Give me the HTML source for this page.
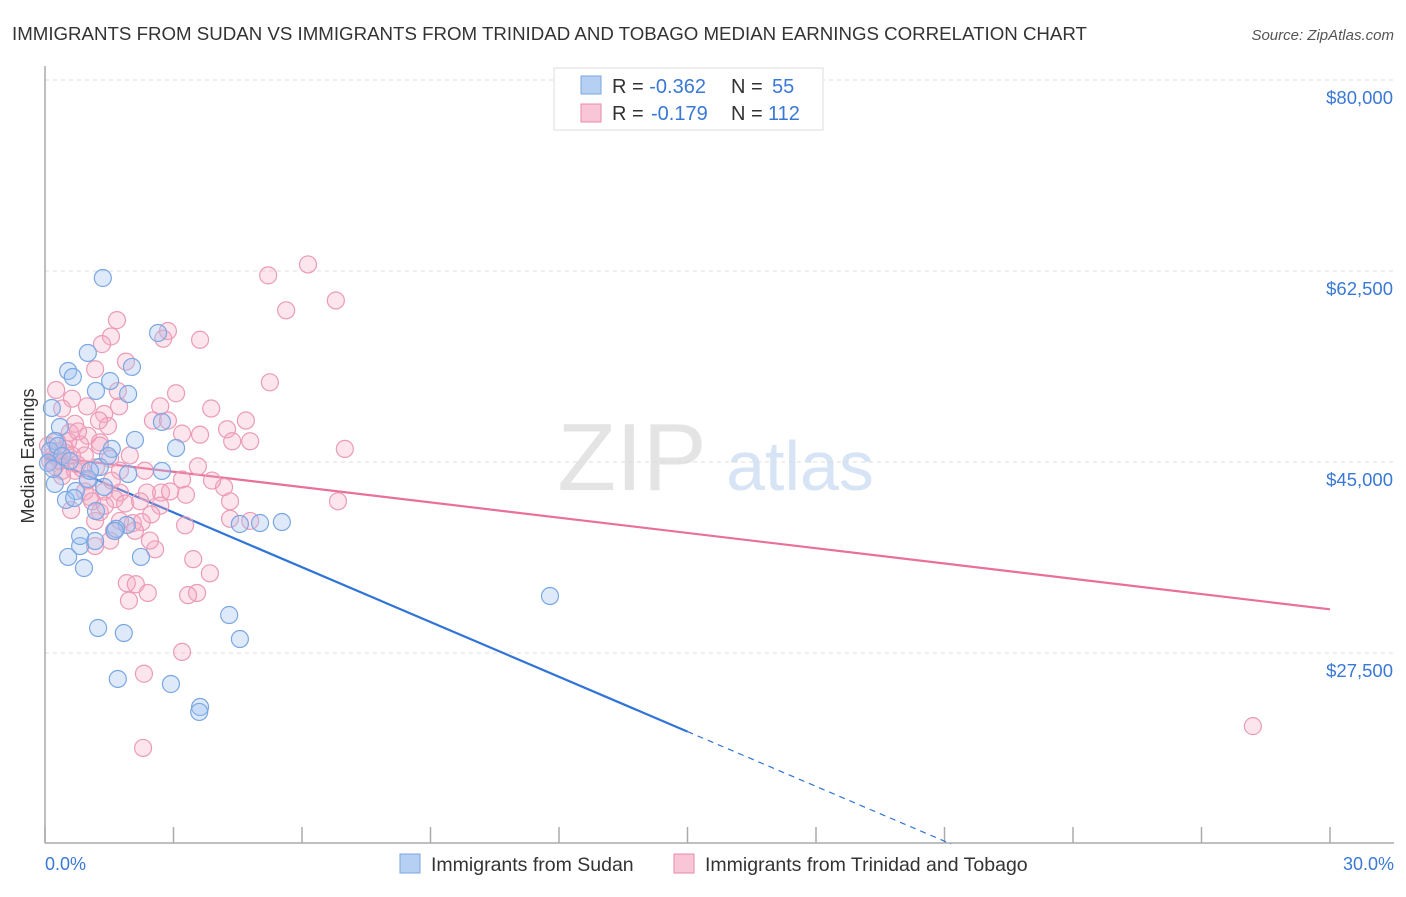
<!DOCTYPE html>
<html><head><meta charset="utf-8"><style>
body{margin:0;background:#fff;font-family:"Liberation Sans",sans-serif;}
svg text{font-family:"Liberation Sans",sans-serif;}
</style></head><body>
<svg id="chart" width="1406" height="892" viewBox="0 0 1406 892">
<text x="12" y="40" font-size="18.7" fill="#333">IMMIGRANTS FROM SUDAN VS IMMIGRANTS FROM TRINIDAD AND TOBAGO MEDIAN EARNINGS CORRELATION CHART</text>
<text x="1394" y="40" font-size="15" fill="#555" font-style="italic" text-anchor="end">Source: ZipAtlas.com</text>
<g>
<text x="632" y="490" font-size="96" fill="#e4e4e4" text-anchor="middle" font-family="Liberation Serif">ZIP</text>
<text x="800" y="490" font-size="70" fill="#d6e4f5" text-anchor="middle">atlas</text>
</g>
<g id="grid"></g><g id="axes"></g><g id="lines"></g><g id="points"></g>
<text transform="translate(34,456) rotate(-90)" font-size="18" fill="#333" text-anchor="middle">Median Earnings</text>
<text x="45" y="870" font-size="18" fill="#3a78d6">0.0%</text>
<text x="1394" y="870" font-size="18" fill="#3a78d6" text-anchor="end">30.0%</text>
<g>
<rect x="554" y="68" width="269" height="62" fill="#fff" stroke="#ddd"/>
<rect x="581" y="76" width="20" height="18" fill="#b6d0f3" stroke="#7aa7e0"/>
<rect x="581" y="104" width="20" height="18" fill="#f8c6d6" stroke="#e88aab"/>
<text x="612" y="93" font-size="20" fill="#333">R = <tspan fill="#3a78d6">-0.362</tspan><tspan x="731">N = </tspan><tspan fill="#3a78d6" x="772">55</tspan></text>
<text x="612" y="120" font-size="20" fill="#333">R = <tspan fill="#3a78d6" x="651">-0.179</tspan><tspan x="731">N = </tspan><tspan fill="#3a78d6" x="768">112</tspan></text>
</g>
<g>
<rect x="400" y="854" width="20" height="19" fill="#b6d0f3" stroke="#7aa7e0"/>
<text x="431" y="871" font-size="19.5" fill="#333">Immigrants from Sudan</text>
<rect x="674" y="854" width="20" height="19" fill="#f8c6d6" stroke="#e88aab"/>
<text x="705" y="871" font-size="19.5" fill="#333">Immigrants from Trinidad and Tobago</text>
</g>
</svg>
<script>
const yTicks=[80000,62500,45000,27500];
const yTickLabels=["$80,000","$62,500","$45,000","$27,500"];
const xTicks=[0,3,6,9,12,15,18,21,24,27,30];
const sudanX=[1.35,1.0,0.54,0.65,1.52,1.19,1.94,2.03,2.64,0.16,0.35,0.23,1.56,2.1,3.06,2.73,2.73,1.94,1.28,1.0,0.23,0.72,1.38,0.49,0.68,1.19,1.91,1.66,4.55,5.02,5.53,0.82,1.17,0.54,2.24,0.91,4.3,1.24,1.84,4.55,11.79,1.7,2.94,3.62,3.6,0.12,0.3,0.4,0.07,0.19,1.47,1.05,0.58,1.63,0.82];
const sudanY=[61860,54990,53340,52790,52420,51510,51230,53710,56820,49950,48210,46930,46200,47020,46280,48670,44180,43900,44540,43440,42990,42340,42710,41520,41700,40510,39230,38870,39320,39410,39500,37300,37760,36300,36300,35290,30980,29790,29330,28780,32720,25120,24660,22550,22100,46010,46470,45550,44910,44360,45550,44180,45090,38680,38220];
const trinX=[5.21,6.14,6.79,5.63,1.68,2.87,3.62,1.54,2.76,1.33,1.89,1.17,5.25,0.26,3.06,1.70,0.63,0.40,1.73,2.69,3.88,1.38,2.52,2.87,4.69,0.70,1.47,4.25,0.58,1.00,3.20,3.62,4.79,4.37,7.00,0.28,0.82,1.28,0.47,0.93,1.52,0.12,0.75,1.19,3.57,1.75,3.20,0.40,1.00,4.18,1.38,1.75,2.38,2.71,3.29,1.05,1.63,6.84,1.87,2.69,0.61,1.28,2.48,4.32,2.05,3.27,1.61,2.26,1.17,1.52,2.57,3.46,3.85,1.91,2.12,2.40,3.55,3.34,1.96,3.20,2.31,2.29,28.2,0.19,0.30,0.49,0.07,0.23,0.40,0.70,0.93,1.28,1.98,2.33,1.56,1.17,1.75,2.92,2.22,0.54,1.10,1.40,2.10,2.45,0.77,1.26,0.98,0.35,0.63,0.86,4.79,3.90,4.32];
const trinY=[62100,63100,59800,58900,58000,57000,56200,56500,56300,55800,54200,53500,52300,51600,51300,51500,50800,49900,50100,50100,49900,49400,48800,48800,48800,48500,48300,48000,47700,47400,47600,47500,46900,46900,46200,46900,46600,46800,46200,45600,45300,45100,44800,44500,44600,44200,43400,43700,43300,42700,42300,42200,42200,42200,42000,41800,41600,41400,41200,41000,40600,40400,40200,39800,39400,39200,38700,39500,37300,37800,37000,36100,34800,33900,33800,33000,33000,32800,32300,27600,25600,18800,20800,45600,46000,45800,46500,44600,44200,44200,42300,46500,45600,44200,43300,39600,39600,42300,41400,46900,41400,41000,38700,37800,47800,48800,50100,45100,45600,44400,39600,43300,41400];
const sudanLine=[45400,20300];
const trinLine=[45500,31500];

const NS="http://www.w3.org/2000/svg";
const X0=45,X1=1330,YTOP=80,YBOT=843;
const xs=v=>X0+(v/30)*(X1-X0);
const ys=v=>YTOP+(80000-v)/17500*191;
function mk(tag,attrs,parent){const e=document.createElementNS(NS,tag);for(const k in attrs)e.setAttribute(k,attrs[k]);parent.appendChild(e);return e;}
const grid=document.getElementById('grid'),axes=document.getElementById('axes'),lines=document.getElementById('lines'),pts=document.getElementById('points');
yTicks.forEach((t,i)=>{
 const l=mk('line',{x1:X0,x2:1394,y1:ys(t),y2:ys(t),stroke:'#ddd','stroke-dasharray':'4,4'},grid);
 
 
 const tx=mk('text',{x:1393,y:ys(t)+24,'font-size':18.5,fill:'#3a78d6','text-anchor':'end'},axes);
 tx.textContent=yTickLabels[i];
 
 
});
const ya=mk('line',{x1:X0,x2:X0,y1:66,y2:YBOT,stroke:'#aaa','stroke-width':1.5},axes);


const xa=mk('line',{x1:X0,x2:1394,y1:YBOT,y2:YBOT,stroke:'#aaa','stroke-width':1.5},axes);


xTicks.forEach(t=>{
 const k=mk('line',{x1:xs(t),x2:xs(t),y1:827,y2:YBOT,stroke:'#aaa','stroke-width':1.5},axes);
 
 
});
function drawPts(X,Y,fill,stroke,name){
 X.forEach((x,i)=>{
  const c=mk('circle',{cx:xs(x),cy:ys(Y[i]),r:8.5,fill:fill,stroke:stroke,'stroke-width':1.2},pts);
  
  
 });
}
drawPts(trinX,trinY,'rgba(244,170,196,0.3)','#eb9bb7','trinidad-point');
drawPts(sudanX,sudanY,'rgba(160,196,240,0.35)','#7aa7e3','sudan-point');
const sb=(sudanLine[1]-sudanLine[0])/15;
const s1=mk('line',{x1:xs(0),y1:ys(sudanLine[0]),x2:xs(15),y2:ys(sudanLine[1]),stroke:'#2f74d6','stroke-width':2.2},lines);


const xEnd=(10000-sudanLine[0])/sb;
const s2=mk('line',{x1:xs(15),y1:ys(sudanLine[1]),x2:xs(xEnd),y2:ys(10000),stroke:'#2f74d6','stroke-width':1.2,'stroke-dasharray':'6,5'},lines);


const t1=mk('line',{x1:xs(0),y1:ys(trinLine[0]),x2:xs(30),y2:ys(trinLine[1]),stroke:'#e8709a','stroke-width':2.2},lines);


</script>
</body></html>
